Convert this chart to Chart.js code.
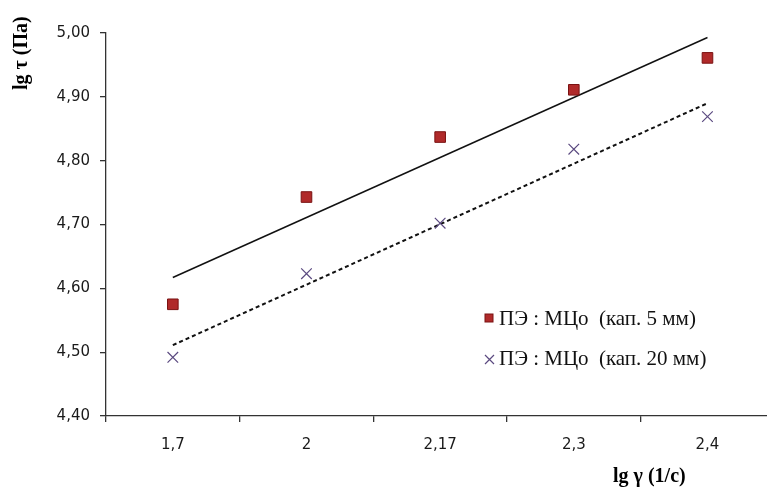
<!DOCTYPE html>
<html>
<head>
<meta charset="utf-8">
<script src="https://cdn.jsdelivr.net/npm/chart.js"></script>
<style>
    html, body { margin: 0; padding: 0; background: #fff; overflow: hidden; }
</style>
</head>
<body>
<canvas id="flowChart" width="783" height="488"></canvas>
<script>
const categories = ["1,7", "2", "2,17", "2,3", "2,4"];
const yTickValues = [4.40, 4.50, 4.60, 4.70, 4.80, 4.90, 5.00];

const series5mm = [4.575, 4.743, 4.837, 4.911, 4.961];
const series20mm = [4.492, 4.623, 4.702, 4.818, 4.869];

// trend lines at first and last point
const trend5mm = [4.617, null, null, null, 4.993];
const trend20mm = [4.511, null, null, null, 4.890];

const label5mm = "ПЭ : МЦо  (кап. 5 мм)";
const label20mm = "ПЭ : МЦо  (кап. 20 мм)";

const axisColor = "#333";
const tickFont = { family: "'DejaVu Sans'", size: 15 };

const extras = {
    id: "extras",
    afterDraw(chart) {
        const c = chart.ctx;
        c.save();
        c.fillStyle = "#000";
        c.font = "bold 20px 'Liberation Serif'";
        c.textBaseline = "middle";
        c.textAlign = "left";
        c.fillText("lg γ (1/с)", 613, 477);
        c.save();
        c.translate(22, 90);
        c.rotate(-Math.PI / 2);
        c.fillText("lg τ (Па)", 0, 0);
        c.restore();

        // legend
        c.font = "21px 'Liberation Serif'";
        c.fillStyle = "#b02a2a";
        c.strokeStyle = "#7a1212";
        c.lineWidth = 1;
        c.fillRect(485, 314, 8, 8);
        c.strokeRect(485, 314, 8, 8);
        c.fillStyle = "#111";
        c.fillText(label5mm, 499, 319);
        c.strokeStyle = "#5b4a80";
        c.lineWidth = 1.2;
        c.beginPath();
        c.moveTo(485, 355); c.lineTo(494, 364);
        c.moveTo(494, 355); c.lineTo(485, 364);
        c.stroke();
        c.fillText(label20mm, 499, 359);
        c.restore();
    }
};

new Chart(document.getElementById("flowChart").getContext("2d"), {
    type: "line",
    data: {
        labels: categories,
        datasets: [
            {
                label: label5mm,
                data: series5mm,
                showLine: false,
                pointStyle: "rect",
                pointRadius: 7.5,
                pointBackgroundColor: "#b02a2a",
                pointBorderColor: "#7a1212",
                pointBorderWidth: 1,
                order: 0
            },
            {
                label: label20mm,
                data: series20mm,
                showLine: false,
                pointStyle: "crossRot",
                pointRadius: 7.5,
                pointBorderColor: "#5b4a80",
                pointBorderWidth: 1.2,
                order: 0
            },
            {
                label: "trend 5",
                data: trend5mm,
                spanGaps: true,
                borderColor: "#111",
                borderWidth: 1.5,
                pointRadius: 0,
                order: 1
            },
            {
                label: "trend 20",
                data: trend20mm,
                spanGaps: true,
                borderColor: "#111",
                borderWidth: 2,
                borderDash: [4, 3],
                pointRadius: 0,
                order: 1
            }
        ]
    },
    options: {
        responsive: false,
        animation: false,
        devicePixelRatio: 1,
        layout: { padding: { top: 33, left: 0, right: 0, bottom: 0 } },
        plugins: {
            legend: { display: false },
            tooltip: { enabled: false }
        },
        scales: {
            x: {
                type: "category",
                offset: true,
                grid: {
                    offset: true,
                    drawOnChartArea: false,
                    tickLength: 6,
                    color: axisColor,
                    lineWidth: 1.3
                },
                border: { color: axisColor, width: 1.3 },
                ticks: { font: tickFont, color: "#1a1a1a", padding: 14, maxRotation: 0 },
                afterFit(scale) {
                    scale.height = 72;
                    scale.paddingLeft = 0;
                    scale.paddingRight = 0;
                }
            },
            y: {
                min: 4.4,
                max: 5.0,
                grid: {
                    drawOnChartArea: false,
                    tickLength: 6,
                    color: axisColor,
                    lineWidth: 1.3
                },
                border: { color: axisColor, width: 1.3 },
                afterBuildTicks(scale) {
                    scale.ticks = yTickValues.map(v => ({ value: v }));
                },
                ticks: {
                    font: tickFont,
                    color: "#1a1a1a",
                    padding: 10,
                    callback: v => v.toFixed(2).replace(".", ",")
                },
                afterFit(scale) {
                    scale.width = 106;
                    scale.paddingTop = 0;
                    scale.paddingBottom = 0;
                }
            }
        }
    },
    plugins: [extras]
});
</script>
</body>
</html>
